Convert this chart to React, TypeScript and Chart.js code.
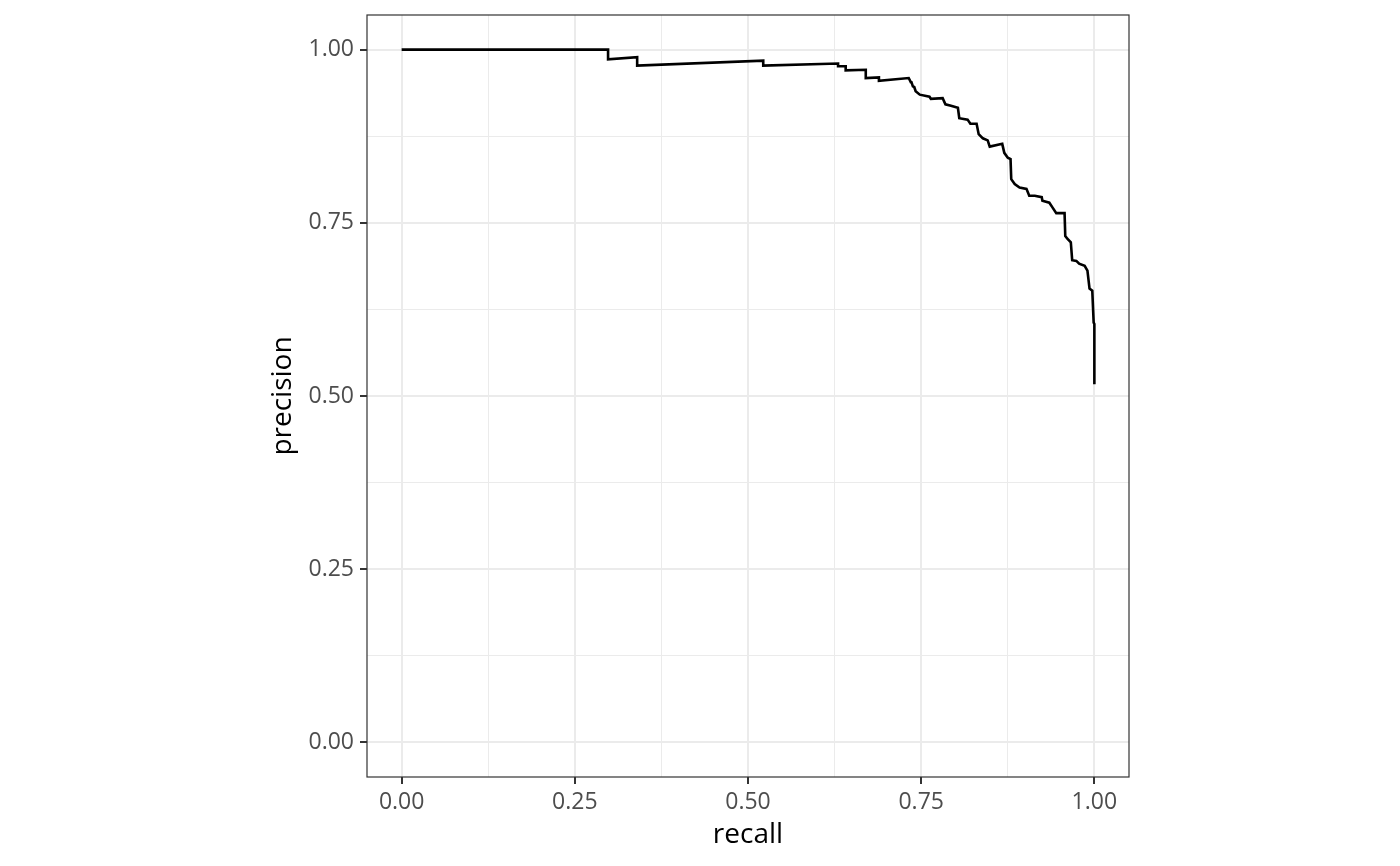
import React, { useEffect, useRef } from "react";
import { Chart, registerables } from "chart.js";

Chart.register(...registerables);

const recall = [0, 0.298, 0.298, 0.340, 0.340, 0.522, 0.522, 0.630, 0.630, 0.641, 0.641, 0.670, 0.670, 0.689, 0.689, 0.732, 0.735, 0.736, 0.738, 0.740, 0.742, 0.748, 0.762, 0.764, 0.781, 0.785, 0.793, 0.803, 0.805, 0.817, 0.821, 0.830, 0.833, 0.839, 0.846, 0.849, 0.867, 0.870, 0.875, 0.879, 0.880, 0.885, 0.892, 0.902, 0.906, 0.914, 0.924, 0.925, 0.935, 0.939, 0.945, 0.957, 0.958, 0.961, 0.966, 0.968, 0.974, 0.978, 0.986, 0.990, 0.993, 0.997, 0.999, 1.000, 1.000];
const precision = [1.000, 1.000, 0.986, 0.989, 0.977, 0.984, 0.977, 0.980, 0.976, 0.976, 0.970, 0.971, 0.959, 0.960, 0.955, 0.959, 0.953, 0.953, 0.947, 0.946, 0.940, 0.935, 0.932, 0.929, 0.930, 0.921, 0.919, 0.916, 0.901, 0.899, 0.893, 0.893, 0.878, 0.872, 0.869, 0.860, 0.864, 0.851, 0.844, 0.842, 0.813, 0.806, 0.801, 0.799, 0.789, 0.789, 0.787, 0.782, 0.779, 0.773, 0.764, 0.764, 0.731, 0.727, 0.722, 0.696, 0.695, 0.691, 0.688, 0.681, 0.655, 0.652, 0.606, 0.604, 0.517];

const majorTicks = [0, 0.25, 0.5, 0.75, 1];
const minorTicks = [0.125, 0.375, 0.625, 0.875];
const tickLabels = ["0.00", "0.25", "0.50", "0.75", "1.00"];
const xTitle = "recall";
const yTitle = "precision";

const isMajor = (v: number) => majorTicks.some((m) => Math.abs(m - v) < 1e-9);

const panelPlugin = {
  id: "panelPlugin",
  afterDraw(chart: any) {
    const { ctx, chartArea: a } = chart;
    ctx.save();
    ctx.strokeStyle = "#333333";
    ctx.lineWidth = 1.2;
    ctx.strokeRect(a.left, a.top, a.right - a.left, a.bottom - a.top);
    ctx.fillStyle = "#000000";
    ctx.font = '28px "Open Sans"';
    ctx.textAlign = "center";
    ctx.textBaseline = "alphabetic";
    ctx.fillText(xTitle, (a.left + a.right) / 2, 843);
    ctx.translate(291, (a.top + a.bottom) / 2);
    ctx.rotate(-Math.PI / 2);
    ctx.fillText(yTitle, 0, 0);
    ctx.restore();
  },
};

function axisOptions(isX: boolean) {
  return {
    type: "linear" as const,
    min: -0.05,
    max: 1.05,
    afterBuildTicks: (scale: any) => {
      scale.ticks = [...majorTicks, ...minorTicks]
        .sort((p, q) => p - q)
        .map((v) => ({ value: v }));
    },
    afterFit: (scale: any) => {
      if (isX) scale.height = 89;
      else scale.width = 367;
      scale.paddingTop = 0;
      scale.paddingBottom = 0;
      scale.paddingLeft = 0;
      scale.paddingRight = 0;
    },
    border: { display: false },
    grid: {
      color: "#ebebeb",
      lineWidth: (c: any) => (isMajor(c.tick?.value) ? 2 : 1),
      drawTicks: true,
      tickLength: 7,
      tickColor: (c: any) => (isMajor(c.tick?.value) ? "#333333" : "rgba(0,0,0,0)"),
      tickWidth: (c: any) => (isMajor(c.tick?.value) ? 2 : 0),
    },
    ticks: {
      autoSkip: false,
      maxRotation: 0,
      minRotation: 0,
      padding: isX ? 5 : 6,
      color: "#4d4d4d",
      font: { family: "Open Sans", size: 23 },
      callback: (v: any) => {
        const i = majorTicks.findIndex((m) => Math.abs(m - Number(v)) < 1e-9);
        return i >= 0 ? tickLabels[i] : "";
      },
    },
  };
}

export default function App() {
  const ref = useRef<HTMLCanvasElement | null>(null);
  useEffect(() => {
    document.body.style.margin = "0";
    const canvas = ref.current!;
    const chart = new Chart(canvas, {
      type: "line",
      data: {
        datasets: [
          {
            data: recall.map((r, i) => ({ x: r, y: precision[i] })),
            borderColor: "#000000",
            borderWidth: 2.6,
            borderJoinStyle: "miter",
            borderCapStyle: "butt",
            pointRadius: 0,
            tension: 0,
            fill: false,
          },
        ],
      },
      options: {
        responsive: false,
        animation: false,
        devicePixelRatio: 1,
        layout: { padding: { top: 15, right: 271, left: 0, bottom: 0 } },
        plugins: { legend: { display: false }, tooltip: { enabled: false }, title: { display: false } },
        scales: { x: axisOptions(true), y: axisOptions(false) },
      },
      plugins: [panelPlugin],
    } as any);
    return () => chart.destroy();
  }, []);
  return (
    <div style={{ position: "fixed", left: 0, top: 0, width: 1400, height: 866, background: "#ffffff" }}>
      <canvas ref={ref} width={1400} height={866} style={{ width: 1400, height: 866, display: "block" }} />
    </div>
  );
}
